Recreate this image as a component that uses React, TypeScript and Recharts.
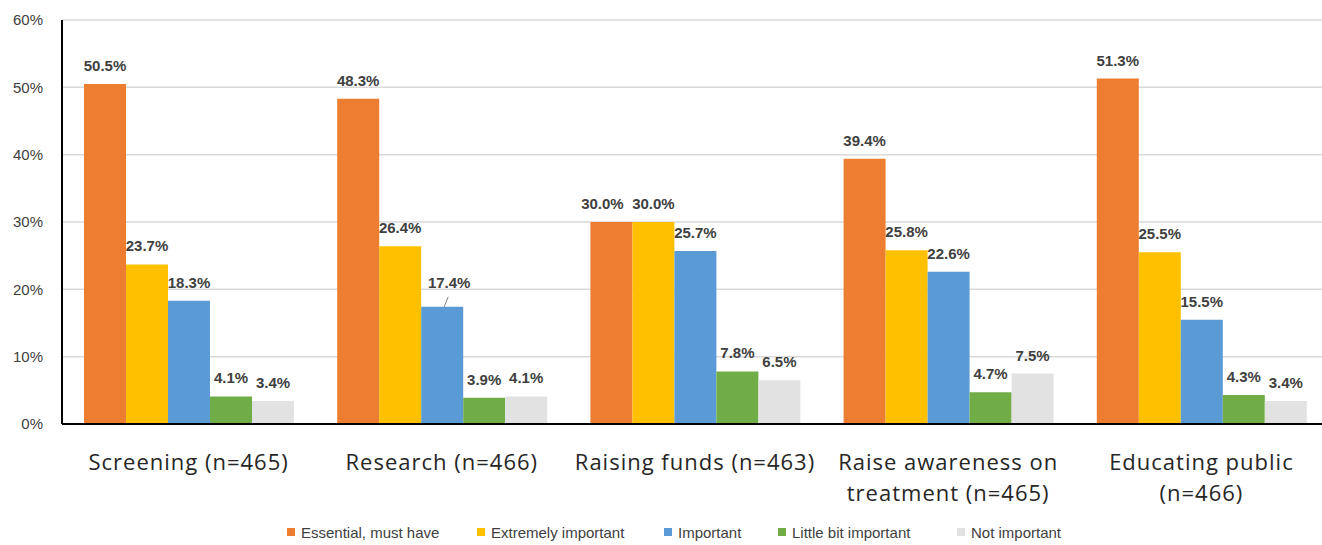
import React from 'react';
import { BarChart, Bar, XAxis, YAxis, CartesianGrid, Legend, LabelList } from 'recharts';

const categories: string[][] = [
  ['Screening (n=465)'],
  ['Research (n=466)'],
  ['Raising funds (n=463)'],
  ['Raise awareness on', 'treatment (n=465)'],
  ['Educating public', '(n=466)'],
];
const essential = [50.5, 48.3, 30.0, 39.4, 51.3];
const extremely = [23.7, 26.4, 30.0, 25.8, 25.5];
const important = [18.3, 17.4, 25.7, 22.6, 15.5];
const littleBit = [4.1, 3.9, 7.8, 4.7, 4.3];
const notImportant = [3.4, 4.1, 6.5, 7.5, 3.4];
const yTicks = [0, 10, 20, 30, 40, 50, 60];

const series = [
  { key: 'essential', name: 'Essential, must have', color: '#ED7D31', values: essential },
  { key: 'extremely', name: 'Extremely important', color: '#FFC000', values: extremely },
  { key: 'important', name: 'Important', color: '#5B9BD5', values: important },
  { key: 'little', name: 'Little bit important', color: '#70AD47', values: littleBit },
  { key: 'not', name: 'Not important', color: '#E2E2E2', values: notImportant },
];

const data = categories.map((lines, i) => {
  const row: any = { name: lines.join(' '), lines };
  series.forEach((s) => {
    row[s.key] = s.values[i];
  });
  return row;
});

const FONT = '"Liberation Sans", Arial, sans-serif';
const XFONT = '"Open Sans", "Liberation Sans", sans-serif';

const XTick = (props: any) => {
  const { x, y, payload } = props;
  const lines: string[] = categories[payload.index] || [String(payload.value)];
  return (
    <text x={x} y={y} textAnchor="middle" fill="#262626" fontSize={22} fontFamily={XFONT} letterSpacing={1}>
      {lines.map((l, i) => (
        <tspan key={i} x={x} dy={i === 0 ? 38 : 31}>
          {l}
        </tspan>
      ))}
    </text>
  );
};

const makeLabel = (key: string) => (props: any) => {
  const { x, y, width, value, index } = props;
  const cx = x + width / 2;
  const txt = Number(value).toFixed(1) + '%';
  const style = { fill: '#404040', fontSize: 15, fontWeight: 'bold' as const, fontFamily: FONT };
  if (key === 'important' && index === 1) {
    return (
      <g>
        <line x1={cx + 6} y1={y - 10} x2={cx + 2} y2={y} stroke="#7f7f7f" strokeWidth={1} />
        <text x={cx + 7} y={y - 19} textAnchor="middle" {...style}>
          {txt}
        </text>
      </g>
    );
  }
  const dx = key === 'essential' && index === 2 ? -9 : 0;
  return (
    <text x={cx + dx} y={y - 13} textAnchor="middle" {...style}>
      {txt}
    </text>
  );
};

const legendWidths = [190, 187, 114, 179, 120];

const LegendContent = () => (
  <div style={{ height: 26, display: 'flex', alignItems: 'center', paddingLeft: 285, fontFamily: FONT }}>
    {series.map((s, i) => (
      <div key={s.key} style={{ width: legendWidths[i], display: 'flex', alignItems: 'center', flex: 'none' }}>
        <span style={{ width: 8, height: 8, background: s.color, display: 'inline-block', marginRight: 6 }} />
        <span style={{ fontSize: 15, color: '#404040', whiteSpace: 'nowrap' }}>{s.name}</span>
      </div>
    ))}
  </div>
);

export default function App() {
  return (
    <div style={{ position: 'absolute', left: 0, top: 0, width: 1322, height: 545, overflow: 'hidden', background: '#fff' }}>
      <BarChart
        width={1330}
        height={545}
        data={data}
        margin={{ top: 20, right: 2, left: 2, bottom: 0 }}
        barGap={0}
      >
        <CartesianGrid vertical={false} stroke="#D9D9D9" strokeWidth={1.5} />
        <XAxis
          dataKey="name"
          height={95}
          interval={0}
          tickLine={false}
          axisLine={{ stroke: '#000', strokeWidth: 2 }}
          tick={<XTick />}
        />
        <YAxis
          width={60}
          domain={[0, 60]}
          ticks={yTicks}
          tickFormatter={(v: number) => v + '%'}
          tickLine={false}
          axisLine={{ stroke: '#000', strokeWidth: 2 }}
          tick={{ fill: '#404040', fontSize: 15, fontFamily: FONT }}
          tickMargin={13}
        />
        <Legend verticalAlign="bottom" content={<LegendContent />} />
        {series.map((s) => (
          <Bar key={s.key} dataKey={s.key} name={s.name} fill={s.color} barSize={42} isAnimationActive={false}>
            <LabelList dataKey={s.key} content={makeLabel(s.key)} />
          </Bar>
        ))}
      </BarChart>
    </div>
  );
}
